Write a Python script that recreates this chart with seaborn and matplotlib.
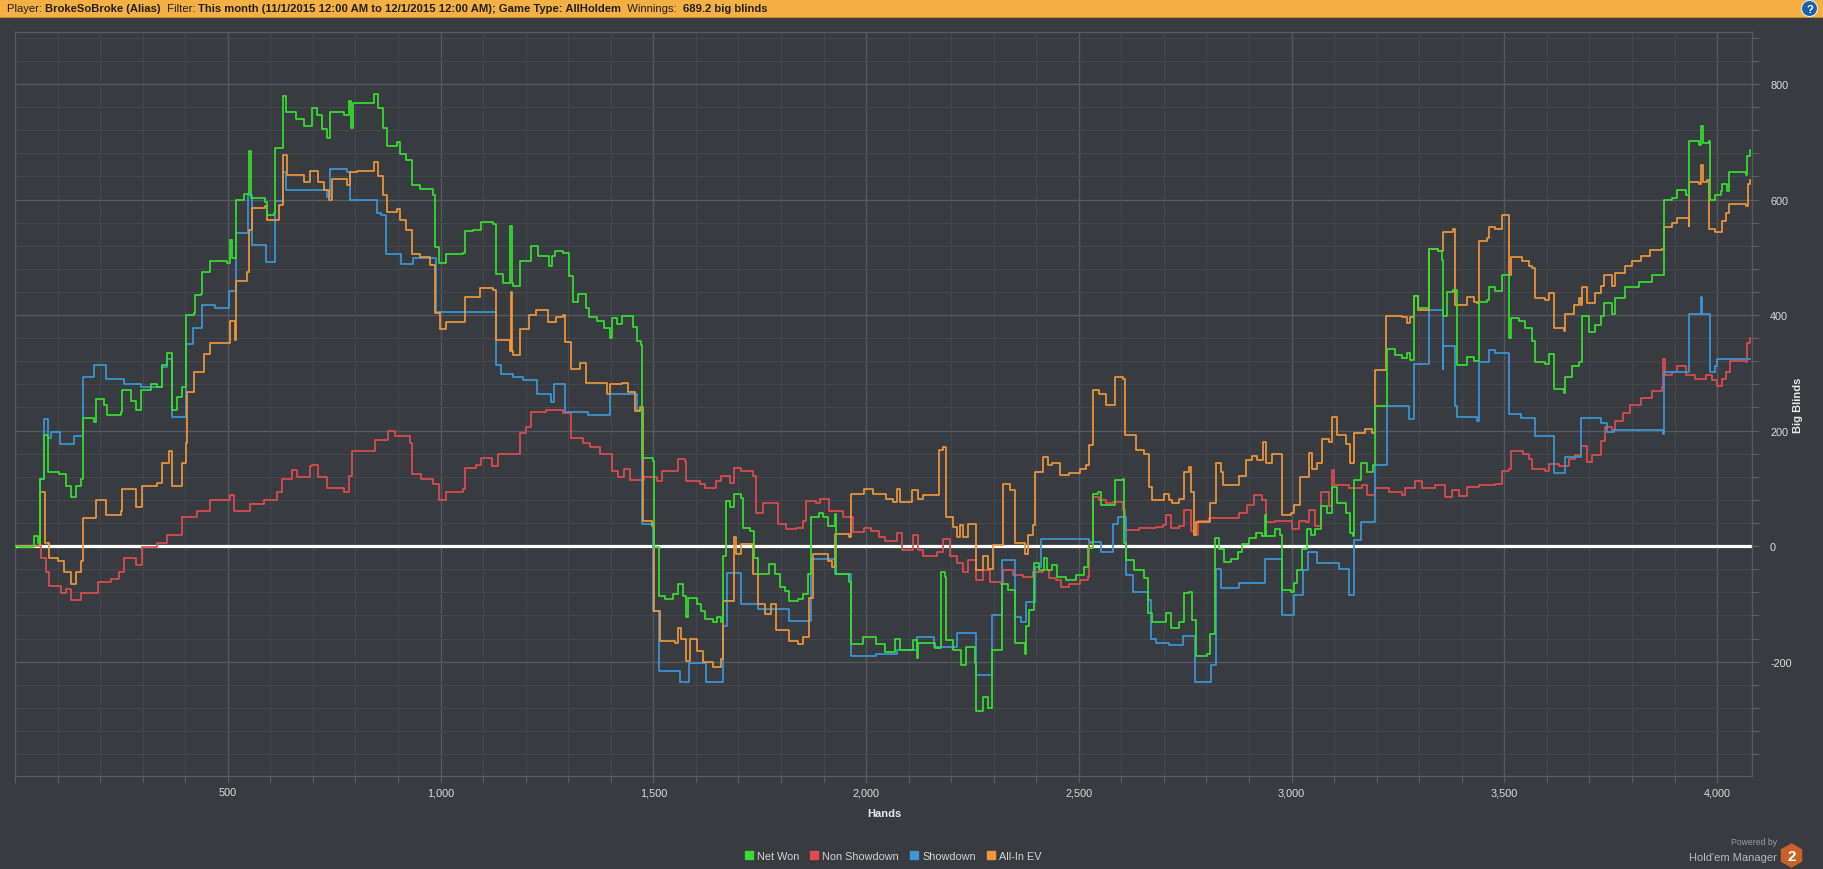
import matplotlib
matplotlib.use("Agg")
import matplotlib.pyplot as plt
import seaborn as sns
import pandas as pd
from matplotlib.patches import Rectangle, Circle, RegularPolygon
from matplotlib.ticker import FixedLocator, MultipleLocator
from matplotlib.lines import Line2D

# ---------------- data (hand number, big blinds) ----------------
series_names = ["Net Won", "Non Showdown", "Showdown", "All-In EV"]
series_colors = ["#35de2f", "#e04b4b", "#3a97d8", "#ee963a"]

net_won = [(0,0),(6,-2),(45,17),(53,5),(59,116),(69,193),(77,128),(104,125),(120,104),(131,85),(143,104),(155,116),(159,221),(186,215),(190,255),(209,245),(217,227),(248,233),(252,270),(272,252),(284,236),(295,270),(319,280),(334,276),(346,314),(358,335),(370,236),(381,258),(393,276),(401,307),(403,400),(420,403),(424,434),(436,437),(440,474),(459,493),(498,490),(505,530),(510,499),(520,600),(537,610),(549,684),(555,602),(588,595),(592,574),(608,577),(612,690),(630,780),(637,752),(660,740),(680,728),(698,758),(709,746),(721,722),(733,706),(741,752),(772,746),(784,770),(789,724),(794,767),(838,767),(844,783),(854,758),(865,724),(875,693),(897,699),(905,678),(920,669),(932,625),(952,619),(983,607),(987,517),(997,490),(1014,505),(1053,508),(1057,545),(1077,548),(1096,561),(1123,557),(1131,471),(1147,456),(1164,554),(1167,456),(1170,450),(1186,493),(1213,520),(1228,502),(1252,502),(1256,485),(1262,502),(1268,511),(1288,508),(1303,468),(1311,422),(1323,437),(1342,412),(1350,397),(1367,390),(1383,378),(1398,361),(1402,395),(1414,384),(1426,398),(1453,380),(1461,355),(1470,349),(1473,153),(1500,148),(1502,-2),(1514,-86),(1527,-92),(1547,-83),(1559,-66),(1570,-86),(1578,-123),(1582,-89),(1602,-100),(1613,-112),(1621,-126),(1641,-132),(1650,-123),(1660,-132),(1664,-17),(1672,78),(1680,67),(1689,90),(1707,84),(1711,32),(1727,26),(1736,-20),(1746,-48),(1773,-31),(1785,-48),(1797,-71),(1809,-77),(1820,-95),(1840,-92),(1852,-83),(1863,-48),(1871,50),(1889,58),(1898,50),(1910,35),(1926,55),(1930,-48),(1961,-63),(1965,-169),(1992,-158),(2023,-169),(2045,-183),(2068,-160),(2080,-180),(2111,-163),(2119,-194),(2123,-168),(2163,-177),(2177,-44),(2185,-53),(2189,-163),(2205,-180),(2224,-206),(2236,-174),(2255,-203),(2259,-286),(2275,-261),(2287,-281),(2295,-180),(2320,-65),(2334,-76),(2349,-168),(2373,-186),(2377,-139),(2384,-110),(2394,-30),(2406,-41),(2418,-21),(2425,-41),(2437,-33),(2449,-53),(2470,-59),(2494,-50),(2513,-36),(2521,-4),(2533,91),(2545,94),(2552,71),(2584,114),(2603,117),(2607,5),(2611,-24),(2630,-41),(2654,-56),(2662,-116),(2673,-131),(2705,-116),(2716,-142),(2736,-131),(2748,-82),(2759,-79),(2767,-128),(2775,-190),(2802,-187),(2809,-153),(2820,14),(2830,-5),(2841,-27),(2857,-23),(2873,-11),(2884,4),(2900,14),(2916,23),(2931,17),(2938,54),(2941,17),(2962,29),(2972,20),(2977,-76),(2998,-79),(3005,-64),(3013,-42),(3025,-5),(3037,29),(3045,20),(3056,29),(3068,69),(3084,57),(3095,103),(3107,75),(3127,57),(3138,23),(3144,17),(3147,115),(3162,143),(3177,128),(3191,140),(3197,242),(3224,341),(3244,331),(3259,325),(3271,335),(3279,322),(3288,433),(3298,412),(3322,514),(3345,511),(3353,495),(3355,399),(3365,440),(3380,443),(3388,313),(3412,327),(3428,321),(3440,423),(3459,426),(3463,448),(3479,441),(3495,469),(3510,361),(3516,395),(3534,389),(3549,377),(3565,355),(3571,318),(3596,315),(3604,333),(3616,272),(3640,265),(3643,293),(3659,312),(3675,318),(3683,398),(3698,370),(3714,383),(3726,398),(3734,420),(3753,401),(3761,429),(3784,448),(3816,457),(3847,469),(3875,599),(3894,602),(3906,617),(3926,608),(3935,701),(3957,694),(3961,728),(3966,697),(3980,701),(3984,599),(3996,608),(4008,614),(4012,626),(4024,614),(4027,648),(4067,642),(4071,676),(4078,685)]

non_showdown = [(0,0),(55,0),(61,-20),(73,-44),(80,-69),(108,-81),(120,-75),(131,-94),(155,-81),(194,-63),(225,-57),(245,-44),(256,-20),(284,-32),(299,-1),(334,5),(358,20),(393,51),(428,60),(459,79),(506,88),(514,60),(553,73),(584,79),(616,94),(627,116),(651,131),(662,119),(694,138),(698,141),(713,119),(733,101),(772,94),(784,122),(792,165),(838,165),(846,184),(877,199),(893,190),(928,178),(932,125),(955,116),(983,107),(997,79),(1014,94),(1053,98),(1057,135),(1084,141),(1096,153),(1120,138),(1135,159),(1182,159),(1186,196),(1202,206),(1213,233),(1248,236),(1288,230),(1307,187),(1334,178),(1352,171),(1375,159),(1402,130),(1418,119),(1430,133),(1445,115),(1477,119),(1508,113),(1520,130),(1547,130),(1559,150),(1574,147),(1578,113),(1609,107),(1621,101),(1648,113),(1660,122),(1680,110),(1689,136),(1707,130),(1734,122),(1742,58),(1758,75),(1785,75),(1793,38),(1812,29),(1836,32),(1852,44),(1858,78),(1883,75),(1891,81),(1914,61),(1945,50),(1969,24),(1996,32),(2012,27),(2031,15),(2045,8),(2072,22),(2084,-7),(2111,19),(2123,-7),(2134,-18),(2166,-10),(2180,13),(2197,-18),(2213,-30),(2228,-44),(2240,-24),(2259,-59),(2275,-41),(2291,-62),(2318,-65),(2323,-41),(2345,-50),(2369,-53),(2392,-44),(2416,-41),(2431,-56),(2447,-59),(2459,-71),(2478,-65),(2502,-59),(2521,-53),(2525,5),(2533,85),(2548,80),(2564,74),(2580,76),(2603,62),(2609,28),(2642,31),(2681,33),(2697,36),(2705,54),(2716,31),(2736,35),(2748,63),(2763,26),(2771,20),(2779,44),(2806,48),(2877,57),(2896,72),(2912,88),(2931,79),(2939,41),(2962,44),(3002,29),(3017,44),(3033,41),(3041,63),(3056,35),(3068,94),(3087,69),(3095,131),(3099,106),(3134,100),(3166,106),(3177,88),(3197,100),(3228,94),(3259,88),(3267,100),(3291,112),(3306,100),(3338,106),(3361,85),(3377,97),(3393,86),(3412,102),(3440,105),(3479,108),(3495,130),(3510,133),(3516,164),(3545,160),(3557,151),(3565,133),(3596,130),(3604,142),(3628,139),(3651,151),(3667,157),(3680,173),(3694,145),(3706,157),(3726,182),(3737,207),(3753,201),(3761,216),(3780,231),(3796,244),(3820,256),(3847,268),(3871,275),(3874,324),(3877,296),(3894,302),(3906,312),(3926,296),(3949,290),(3973,296),(3988,287),(4000,278),(4012,290),(4020,302),(4031,321),(4067,318),(4071,352),(4078,361)]

showdown = [(0,0),(55,0),(59,116),(69,220),(77,187),(84,198),(106,177),(139,191),(159,293),(186,314),(213,289),(256,280),(295,276),(346,310),(358,324),(368,224),(402,350),(419,378),(440,417),(470,412),(502,442),(520,542),(547,607),(557,522),(590,491),(612,598),(630,647),(637,617),(733,604),(741,653),(780,648),(788,600),(851,576),(861,573),(871,506),(908,488),(936,499),(989,406),(1131,314),(1143,298),(1170,292),(1193,287),(1226,264),(1260,249),(1266,281),(1292,233),(1346,227),(1399,263),(1461,235),(1473,38),(1500,-112),(1514,-216),(1562,-236),(1584,-202),(1625,-236),(1664,-138),(1673,-46),(1707,-100),(1746,-109),(1820,-129),(1871,-22),(1926,-48),(1965,-190),(2023,-187),(2072,-180),(2119,-157),(2159,-174),(2213,-151),(2259,-223),(2295,-119),(2320,-24),(2349,-122),(2365,-131),(2377,-96),(2396,-36),(2412,13),(2525,7),(2552,-10),(2580,39),(2593,51),(2611,-50),(2627,-79),(2662,-93),(2670,-160),(2681,-168),(2712,-172),(2744,-156),(2773,-236),(2810,-206),(2822,-39),(2834,-73),(2877,-64),(2938,-23),(2977,-119),(3005,-85),(3027,-42),(3039,-11),(3059,-30),(3111,-39),(3134,-85),(3146,10),(3162,41),(3197,140),(3224,242),(3275,220),(3288,316),(3322,409),(3355,307),(3357,347),(3383,242),(3388,223),(3436,216),(3441,318),(3463,340),(3479,335),(3510,228),(3538,222),(3571,190),(3616,127),(3642,154),(3681,222),(3726,213),(3741,198),(3757,201),(3872,194),(3875,302),(3935,401),(3961,432),(3965,401),(3983,302),(3996,312),(4000,324),(4078,324)]

all_in_ev = [(0,0),(55,0),(59,94),(71,5),(80,-20),(100,-25),(116,-44),(131,-66),(143,-44),(155,-26),(159,48),(190,79),(213,54),(248,60),(252,98),(284,67),(299,104),(334,110),(346,144),(362,165),(370,104),(393,144),(401,178),(405,267),(420,301),(444,332),(459,351),(494,351),(506,390),(516,357),(520,459),(545,474),(549,548),(557,585),(588,588),(592,564),(612,564),(620,591),(630,677),(639,643),(678,631),(694,650),(713,631),(725,616),(737,600),(745,635),(780,625),(788,647),(804,650),(844,665),(854,641),(865,607),(875,579),(897,583),(905,564),(920,548),(932,505),(952,500),(975,486),(987,403),(998,375),(1014,388),(1057,431),(1092,446),(1123,443),(1131,357),(1163,338),(1165,440),(1168,338),(1170,331),(1186,375),(1209,400),(1225,409),(1252,388),(1272,397),(1288,400),(1292,354),(1307,307),(1327,317),(1342,283),(1391,263),(1398,280),(1426,283),(1441,266),(1457,234),(1469,240),(1475,44),(1496,35),(1502,-112),(1516,-164),(1551,-167),(1559,-141),(1566,-161),(1578,-199),(1586,-161),(1602,-181),(1617,-201),(1641,-210),(1660,-196),(1664,-95),(1689,15),(1695,-14),(1707,3),(1734,-48),(1746,-100),(1762,-118),(1777,-100),(1789,-146),(1820,-164),(1840,-169),(1852,-158),(1867,-89),(1875,-14),(1910,-25),(1920,-37),(1926,21),(1959,15),(1965,90),(1996,98),(2016,90),(2033,91),(2048,82),(2064,77),(2072,99),(2080,77),(2107,97),(2123,81),(2134,89),(2172,166),(2180,172),(2189,51),(2205,33),(2213,16),(2220,36),(2228,16),(2240,39),(2259,-41),(2275,-18),(2287,-39),(2298,2),(2323,108),(2338,97),(2349,5),(2373,-13),(2380,19),(2392,36),(2398,128),(2416,154),(2427,140),(2438,143),(2455,123),(2478,126),(2502,134),(2517,140),(2523,175),(2533,270),(2548,264),(2564,244),(2584,293),(2603,290),(2609,192),(2634,166),(2654,160),(2666,103),(2673,80),(2701,91),(2713,80),(2720,75),(2736,82),(2748,128),(2759,137),(2763,94),(2771,20),(2775,41),(2809,75),(2822,143),(2834,128),(2838,106),(2877,122),(2892,149),(2908,156),(2919,149),(2934,180),(2941,143),(2955,159),(2977,54),(2998,57),(3005,72),(3020,119),(3041,162),(3048,134),(3060,143),(3072,186),(3087,180),(3095,223),(3107,193),(3127,177),(3138,143),(3146,196),(3173,202),(3189,196),(3197,304),(3222,399),(3259,396),(3271,387),(3279,396),(3287,433),(3298,409),(3322,458),(3324,514),(3345,511),(3357,544),(3380,549),(3385,418),(3412,432),(3428,423),(3436,420),(3441,528),(3459,534),(3463,552),(3479,549),(3495,574),(3510,469),(3516,500),(3542,494),(3557,485),(3565,481),(3571,429),(3596,426),(3604,438),(3616,377),(3640,373),(3643,401),(3663,417),(3675,429),(3680,417),(3683,448),(3694,420),(3714,438),(3726,450),(3734,469),(3753,450),(3761,472),(3784,485),(3800,494),(3820,503),(3843,512),(3871,515),(3875,552),(3894,559),(3906,568),(3933,555),(3935,630),(3957,627),(3961,660),(3966,630),(3976,633),(3982,549),(3996,543),(4012,562),(4020,577),(4027,593),(4067,589),(4073,627),(4078,633)]

x_tick_values = [500, 1000, 1500, 2000, 2500, 3000, 3500, 4000]
x_tick_labels = ["500", "1,000", "1,500", "2,000", "2,500", "3,000", "3,500", "4,000"]
y_tick_values = [-200, 0, 200, 400, 600, 800]
y_tick_labels = ["-200", "0", "200", "400", "600", "800"]

header_parts = [("Player: ", False), ("BrokeSoBroke (Alias)", True), ("  Filter: ", False),
                ("This month (11/1/2015 12:00 AM to 12/1/2015 12:00 AM); Game Type: AllHoldem", True),
                ("  Winnings:  ", False), ("689.2 big blinds", True)]

# ---------------- build table ----------------
frames = []
for name, pts in zip(series_names, [net_won, non_showdown, showdown, all_in_ev]):
    pts = sorted(pts)
    frames.append(pd.DataFrame({"hand": [p[0] for p in pts], "bb": [p[1] for p in pts], "series": name}))
df = pd.concat(frames, ignore_index=True)

# ---------------- style ----------------
BG = "#383b3f"
plt.rcParams["font.family"] = ["Liberation Sans", "DejaVu Sans"]

W, H = 1824, 870
def fx(px): return px / W
def fy(py): return 1 - py / H

fig = plt.figure(figsize=(W / 100, H / 100), dpi=100, facecolor=BG)

# header bar
fig.add_artist(Rectangle((0, fy(18)), 1, 18 / H, transform=fig.transFigure,
                         facecolor="#f4b044", edgecolor="none", zorder=0))
fig.add_artist(Rectangle((0, fy(19)), 1, 1.2 / H, transform=fig.transFigure,
                         facecolor="#c98a2c", edgecolor="none", zorder=0))
renderer = fig.canvas.get_renderer()
x = 7
for txt, bold in header_parts:
    t = fig.text(fx(x), fy(9.5), txt, fontsize=8.1, weight="bold" if bold else "normal",
                 ha="left", va="center", color="#202020")
    x += t.get_window_extent(renderer).width

# help icon
axh = fig.add_axes([fx(1801), fy(18), 17 / W, 17 / H])
axh.set_xlim(0, 1); axh.set_ylim(0, 1); axh.set_aspect("equal"); axh.axis("off")
axh.add_patch(Circle((0.5, 0.5), 0.47, facecolor="#1d5ea6", edgecolor="#d9e8f5", lw=0.8))
axh.text(0.5, 0.48, "?", color="white", fontsize=8, weight="bold", ha="center", va="center")

# main axes
ax = fig.add_axes([fx(15), fy(777), (1752 - 15) / W, (777 - 33) / H])
ax.set_facecolor(BG)
ax.axhline(0, color="white", lw=2.3, zorder=2)

order = [1, 2, 3, 0]  # red, blue, orange, green on top
for i in order:
    sub = df[df["series"] == series_names[i]]
    sns.lineplot(data=sub, x="hand", y="bb", color=series_colors[i], estimator=None, sort=False,
                 drawstyle="steps-post", lw=1.25, ax=ax, legend=False, zorder=3 + order.index(i))

ax.set_xlim(0, 4082)
ax.set_ylim(-398, 890)
ax.set_xlabel("")
ax.set_ylabel("")

ax.xaxis.set_major_locator(FixedLocator(x_tick_values))
ax.set_xticklabels(x_tick_labels)
ax.xaxis.set_minor_locator(MultipleLocator(100))
ax.yaxis.set_major_locator(FixedLocator(y_tick_values))
ax.set_yticklabels(y_tick_labels)
ax.yaxis.set_minor_locator(MultipleLocator(40))
ax.yaxis.tick_right()

ax.tick_params(axis="y", which="both", right=True, left=False, length=5, width=0.8,
               color="#5b5e63", labelcolor="#dcdcdc", labelsize=7.8, pad=8)
ax.tick_params(axis="x", which="both", bottom=True, length=5, width=0.8,
               color="#5b5e63", labelcolor="#dcdcdc", labelsize=7.8, pad=3)
ax.grid(which="major", color="#56595e", lw=1.0)
ax.grid(which="minor", color="#44474c", lw=0.8)
ax.set_axisbelow(True)
for s in ax.spines.values():
    s.set_color("#56595e")
    s.set_linewidth(1.0)

fig.text(fx(884), fy(814), "Hands", ha="center", va="center", color="#e8e8e8",
         fontsize=8, weight="bold")
fig.text(fx(1798), fy(405), "Big Blinds", ha="center", va="center", rotation=90,
         color="#e8e8e8", fontsize=8, weight="bold")

# legend
handles = [Line2D([], [], marker="s", ls="", color=c, markersize=5.5) for c in series_colors]
fig.legend(handles, series_names, loc="center", bbox_to_anchor=(fx(893), fy(857)), ncol=4,
           frameon=False, fontsize=7.8, labelcolor="#d4d4d4", handletextpad=0.35,
           columnspacing=1.0, handlelength=0.8)

# powered by logo
fig.text(fx(1777), fy(843), "Powered by", ha="right", va="center", fontsize=6.2, color="#9c9c9c")
fig.text(fx(1777), fy(858), "Hold'em Manager", ha="right", va="center", fontsize=8, color="#b9b9b9")
axl = fig.add_axes([fx(1780), fy(869), 23 / W, 25 / H])
axl.set_xlim(0, 1); axl.set_ylim(0, 1.09); axl.set_aspect("equal"); axl.axis("off")
axl.add_patch(RegularPolygon((0.5, 0.545), 6, radius=0.54, facecolor="#c9612b", edgecolor="none"))
axl.text(0.5, 0.53, "2", color="white", fontsize=11, weight="bold", ha="center", va="center")

fig.savefig("out.png", dpi=100, facecolor=BG)
